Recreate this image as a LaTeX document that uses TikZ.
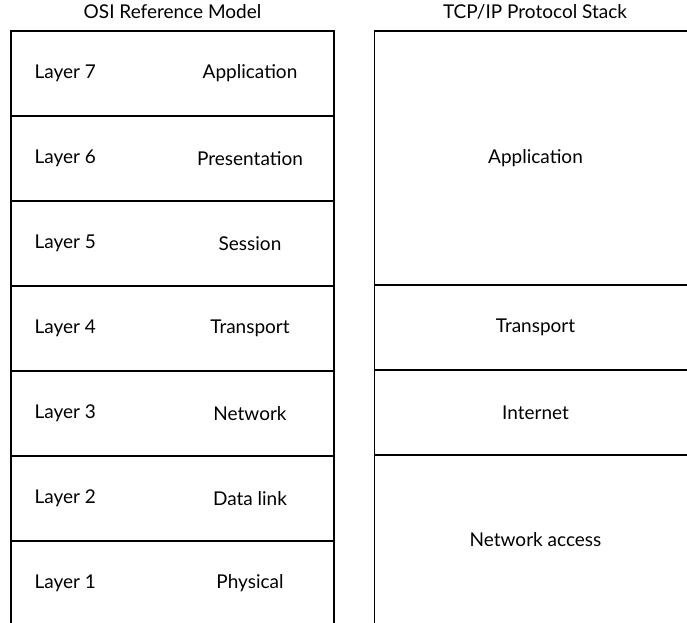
\documentclass[tikz,border=0pt]{standalone}
\usepackage{fontspec}
\setmainfont{Lato}
\usetikzlibrary{positioning}

\tikzset{
  layerbox/.style={draw, line width=1.3pt, minimum width=323pt, minimum height=85pt, inner sep=0pt, outer sep=0pt},
  stackbox/.style={draw, line width=1.3pt, minimum width=322pt, inner sep=0pt, outer sep=0pt},
}

\begin{document}
\begin{tikzpicture}[x=1pt, y=-1pt, font=\fontsize{19}{22}\selectfont]
    \useasboundingbox (0,0) rectangle (687,622);
    \clip (0,0) rectangle (687,622);

    % OSI reference model
    \node (osititle) at (172.5,12) {OSI Reference Model};
    \foreach \n/\name [count=\i from 0] in {7/Application, 6/Presentation, 5/Session, 4/Transport, 3/Network, 2/Data link, 1/Physical} {
        \node[layerbox, anchor=north west] (osi\n) at (11,31+85*\i) {};
        \node[anchor=west] (num\n) at ([xshift=20pt]osi\n.west) {Layer \n};
        \node (name\n) at ([xshift=77.5pt]osi\n.center) {\name};
    }

    % TCP/IP protocol stack
    \node (tcptitle) at (535,12) {TCP/IP Protocol Stack};
    \node[stackbox, minimum height=254pt, anchor=north west] (tcpapp) at (374.5,31) {Application};
    \node[stackbox, minimum height=85pt, below=0pt of tcpapp] (tcptrans) {Transport};
    \node[stackbox, minimum height=85pt, below=0pt of tcptrans] (tcpnet) {Internet};
    \node[stackbox, minimum height=170pt, below=0pt of tcpnet] (tcpaccess) {Network access};
\end{tikzpicture}
\end{document}
